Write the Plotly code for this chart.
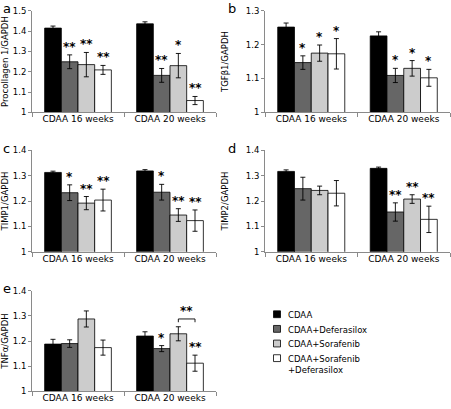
import plotly.graph_objects as go

categories = ["CDAA 16 weeks", "CDAA 20 weeks"]
series_names = ["CDAA", "CDAA+Deferasilox", "CDAA+Sorafenib", "CDAA+Sorafenib<br>+Deferasilox"]
series_colors = ["#000000", "#666666", "#cccccc", "#ffffff"]

# Panel a: Procollagen 1/GAPDH
procol_cdaa = [1.415, 1.436]
procol_def = [1.249, 1.182]
procol_sor = [1.235, 1.230]
procol_sordef = [1.209, 1.058]
procol_cdaa_err = [0.010, 0.010]
procol_def_err = [0.034, 0.034]
procol_sor_err = [0.060, 0.060]
procol_sordef_err = [0.022, 0.020]
procol_stars = [["", ""], ["**", "**"], ["**", "*"], ["**", "**"]]

# Panel b: TGFb1/GAPDH
tgf_cdaa = [1.252, 1.226]
tgf_def = [1.147, 1.109]
tgf_sor = [1.175, 1.130]
tgf_sordef = [1.173, 1.102]
tgf_cdaa_err = [0.012, 0.012]
tgf_def_err = [0.020, 0.021]
tgf_sor_err = [0.024, 0.023]
tgf_sordef_err = [0.045, 0.025]
tgf_stars = [["", ""], ["*", "*"], ["*", "*"], ["*", "*"]]

# Panel c: TIMP1/GAPDH
timp1_cdaa = [1.313, 1.319]
timp1_def = [1.233, 1.235]
timp1_sor = [1.192, 1.145]
timp1_sordef = [1.204, 1.123]
timp1_cdaa_err = [0.005, 0.005]
timp1_def_err = [0.031, 0.031]
timp1_sor_err = [0.026, 0.025]
timp1_sordef_err = [0.043, 0.042]
timp1_stars = [["", ""], ["*", "*"], ["**", "**"], ["**", "**"]]

# Panel d: TIMP2/GAPDH
timp2_cdaa = [1.317, 1.329]
timp2_def = [1.249, 1.157]
timp2_sor = [1.242, 1.208]
timp2_sordef = [1.231, 1.128]
timp2_cdaa_err = [0.006, 0.005]
timp2_def_err = [0.045, 0.036]
timp2_sor_err = [0.017, 0.017]
timp2_sordef_err = [0.050, 0.052]
timp2_stars = [["", ""], ["", "**"], ["", "**"], ["", "**"]]

# Panel e: TNFa/GAPDH
tnf_cdaa = [1.188, 1.220]
tnf_def = [1.190, 1.170]
tnf_sor = [1.288, 1.229]
tnf_sordef = [1.174, 1.112]
tnf_cdaa_err = [0.019, 0.017]
tnf_def_err = [0.015, 0.012]
tnf_sor_err = [0.032, 0.028]
tnf_sordef_err = [0.030, 0.032]
tnf_stars = [["", ""], ["", "*"], ["", ""], ["", "**"]]
tnf_bracket_level = 1.288
tnf_bracket_label = "**"

ticks_1_5 = [1, 1.1, 1.2, 1.3, 1.4, 1.5]
ticks_1_4 = [1, 1.1, 1.2, 1.3, 1.4]
ticks_1_3 = [1, 1.1, 1.2, 1.3]

panels = [
    dict(letter="a", title="Procollagen 1/GAPDH", yrange=[1, 1.5], ticks=ticks_1_5,
         vals=[procol_cdaa, procol_def, procol_sor, procol_sordef],
         errs=[procol_cdaa_err, procol_def_err, procol_sor_err, procol_sordef_err],
         stars=procol_stars),
    dict(letter="b", title="TGFβ1/GAPDH", yrange=[1, 1.3], ticks=ticks_1_3,
         vals=[tgf_cdaa, tgf_def, tgf_sor, tgf_sordef],
         errs=[tgf_cdaa_err, tgf_def_err, tgf_sor_err, tgf_sordef_err],
         stars=tgf_stars),
    dict(letter="c", title="TIMP1/GAPDH", yrange=[1, 1.4], ticks=ticks_1_4,
         vals=[timp1_cdaa, timp1_def, timp1_sor, timp1_sordef],
         errs=[timp1_cdaa_err, timp1_def_err, timp1_sor_err, timp1_sordef_err],
         stars=timp1_stars),
    dict(letter="d", title="TIMP2/GAPDH", yrange=[1, 1.4], ticks=ticks_1_4,
         vals=[timp2_cdaa, timp2_def, timp2_sor, timp2_sordef],
         errs=[timp2_cdaa_err, timp2_def_err, timp2_sor_err, timp2_sordef_err],
         stars=timp2_stars),
    dict(letter="e", title="TNFα/GAPDH", yrange=[1, 1.4], ticks=ticks_1_4,
         vals=[tnf_cdaa, tnf_def, tnf_sor, tnf_sordef],
         errs=[tnf_cdaa_err, tnf_def_err, tnf_sor_err, tnf_sordef_err],
         stars=tnf_stars),
]

W, H = 451, 409
FONT = "DejaVu Sans"
AXC = "#8a8a8a"
BARGAP = 0.275

# layout geometry (pixels)
left_x = (32, 216)
right_x = (265, 450)
rows_y = [(6, 110), (149, 253), (293, 396)]
panel_pos = [(left_x, rows_y[0]), (right_x, rows_y[0]),
             (left_x, rows_y[1]), (right_x, rows_y[1]),
             (left_x, rows_y[2])]
letter_dx = [31, 39, 31, 39, 31]
title_standoff = [5, 15, 5, 15, 5]

fig = go.Figure()
annotations = []
shapes = []

group_w = 1 - BARGAP
bar_w = group_w / 4
offsets = [-group_w / 2 + bar_w * (k + 0.5) for k in range(4)]

STAR_FONT = dict(family=FONT, size=12, color="#000000", weight="bold")

for p, panel in enumerate(panels):
    n = p + 1
    xa = "x" if n == 1 else f"x{n}"
    ya = "y" if n == 1 else f"y{n}"
    for s in range(4):
        fig.add_trace(go.Bar(
            x=categories, y=panel["vals"][s], name=series_names[s],
            marker=dict(color=series_colors[s], line=dict(color="#000000", width=0.8)),
            error_y=dict(type="data", array=panel["errs"][s], color="#000000",
                         thickness=0.9, width=2.5),
            xaxis=xa, yaxis=ya, legendgroup=series_names[s],
            showlegend=False, offsetgroup=str(s),
        ))
        for c in range(2):
            st = panel["stars"][s][c]
            if st:
                annotations.append(dict(
                    x=c + offsets[s], y=panel["vals"][s][c] + panel["errs"][s][c],
                    xref=xa, yref=ya, text=st, showarrow=False,
                    yanchor="bottom", yshift=-1, font=STAR_FONT))
    (x0, x1), (y0, y1) = panel_pos[p]
    xkey = "xaxis" if n == 1 else f"xaxis{n}"
    ykey = "yaxis" if n == 1 else f"yaxis{n}"
    fig.update_layout(**{
        xkey: dict(domain=[x0 / W, x1 / W], anchor=ya, type="category",
                   showline=True, linecolor=AXC, linewidth=1,
                   ticks="outside", tickson="boundaries", ticklen=4, tickcolor=AXC,
                   ticklabelstandoff=-2,
                   showgrid=False, zeroline=False, fixedrange=True,
                   tickfont=dict(family=FONT, size=9, color="#000000")),
        ykey: dict(domain=[1 - y1 / H, 1 - y0 / H], anchor=xa, range=panel["yrange"],
                   tickvals=panel["ticks"], showline=True, linecolor=AXC, linewidth=1,
                   ticks="outside", ticklen=3, tickcolor=AXC,
                   showgrid=False, zeroline=False, fixedrange=True,
                   tickfont=dict(family=FONT, size=8.5, color="#000000"),
                   title=dict(text=panel["title"], standoff=title_standoff[p],
                              font=dict(family=FONT, size=8.5, color="#000000"))),
    })
    # panel letter
    annotations.append(dict(
        x=(x0 - letter_dx[p]) / W, y=1 - (y0 - 6) / H, xref="paper", yref="paper",
        text=panel["letter"], showarrow=False, xanchor="left", yanchor="top",
        yshift=6, font=dict(family=FONT, size=13, color="#000000")))

# bracket in panel e (20 weeks: Sorafenib vs Sorafenib+Deferasilox)
bx0 = 1 + offsets[2]
bx1 = 1 + offsets[3]
shapes.append(dict(type="path", xref="x5", yref="y5",
                   path=f"M {bx0},{tnf_bracket_level - 0.013} L {bx0},{tnf_bracket_level} "
                        f"L {bx1},{tnf_bracket_level} L {bx1},{tnf_bracket_level - 0.013}",
                   line=dict(color="#000000", width=0.9)))
annotations.append(dict(x=(bx0 + bx1) / 2, y=tnf_bracket_level, xref="x5", yref="y5",
                        text=tnf_bracket_label, showarrow=False, yanchor="bottom", yshift=-1,
                        font=STAR_FONT))

# legend (drawn as small swatches + labels)
leg_x = 277
leg_rows = [317, 332, 347, 362]
for s in range(4):
    cy = leg_rows[s]
    shapes.append(dict(type="rect", xref="paper", yref="paper",
                       x0=(leg_x - 3.5) / W, x1=(leg_x + 3.5) / W,
                       y0=1 - (cy + 3.5) / H, y1=1 - (cy - 3.5) / H,
                       fillcolor=series_colors[s], line=dict(color="#000000", width=0.8)))
    annotations.append(dict(x=(leg_x + 9) / W, y=1 - (cy - 6.5) / H, xref="paper", yref="paper",
                            text=series_names[s], showarrow=False, xanchor="left",
                            yanchor="top", align="left",
                            font=dict(family=FONT, size=8.5, color="#000000")))

fig.update_layout(
    width=W, height=H, margin=dict(l=0, r=0, t=0, b=0),
    paper_bgcolor="#ffffff", plot_bgcolor="#ffffff",
    barmode="group", bargap=BARGAP, bargroupgap=0,
    font=dict(family=FONT, size=9, color="#000000"),
    annotations=annotations, shapes=shapes,
    showlegend=False, hovermode=False,
)

fig.write_html("out.html", config={"displayModeBar": False},
               post_script="document.body.style.margin='0';document.body.style.overflow='hidden';")
